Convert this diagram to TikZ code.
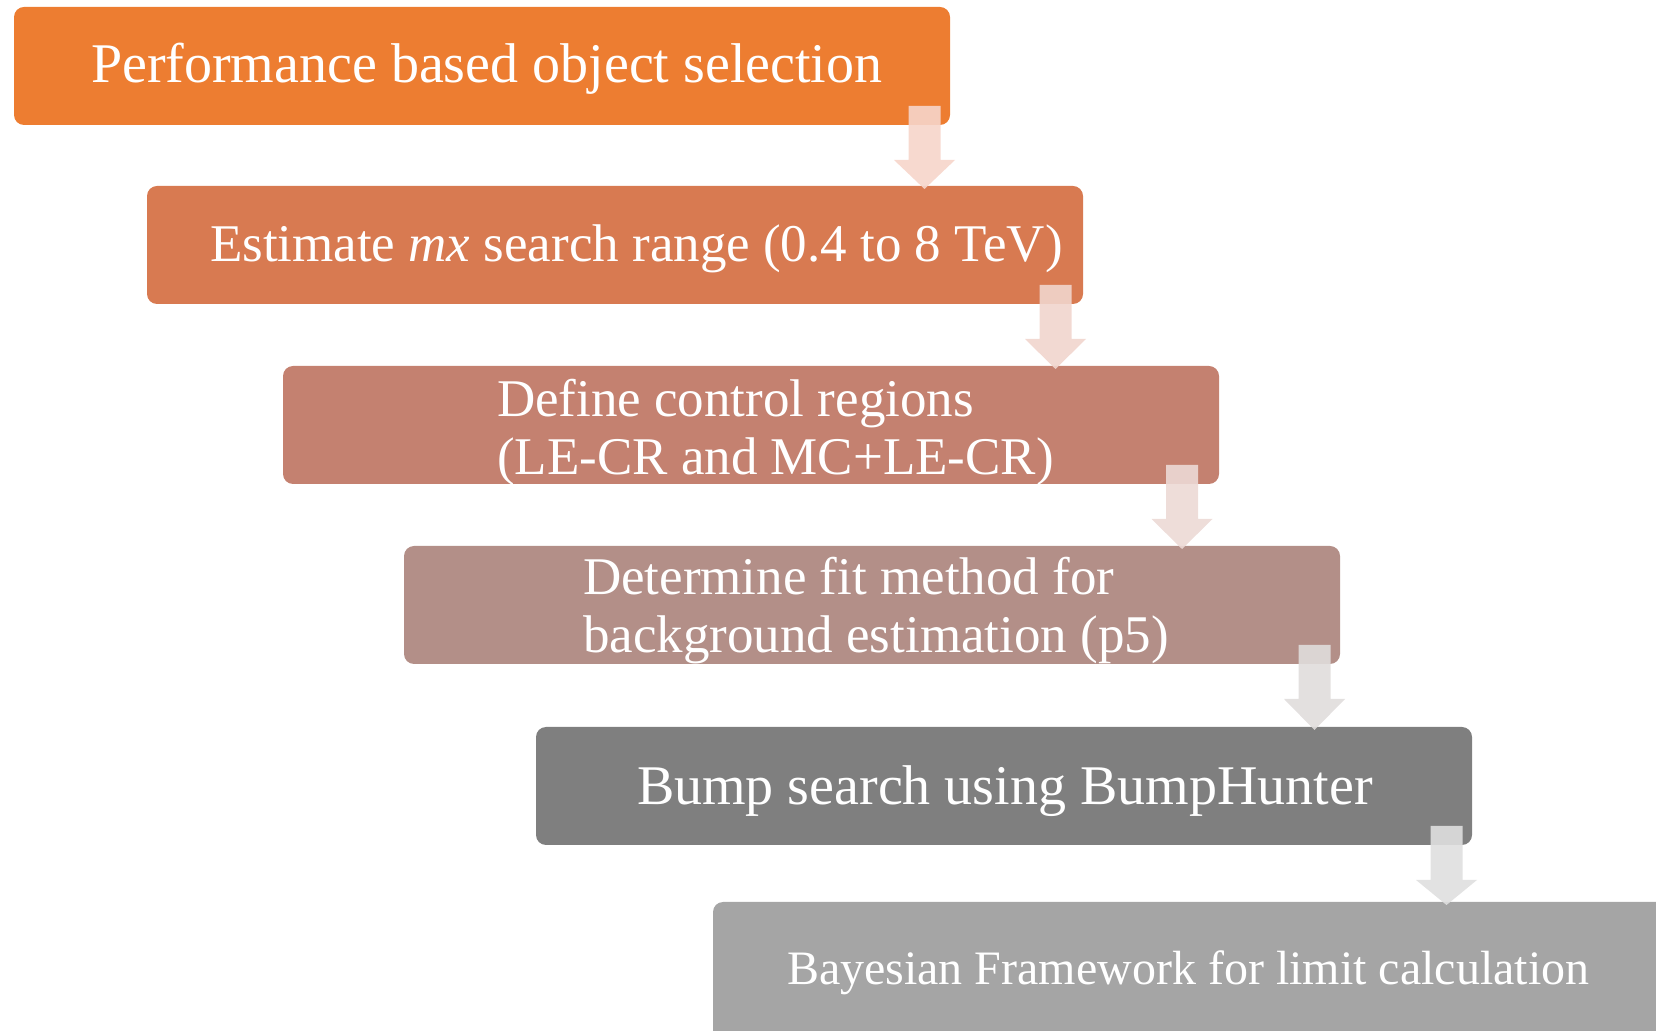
\documentclass[tikz,border=0pt]{standalone}
\usepackage{fontspec}
\setmainfont{Liberation Serif}
\usetikzlibrary{calc}

% stage fills, from orange to grey
\definecolor{stageA}{HTML}{ED7D31}
\definecolor{stageB}{HTML}{D87A51}
\definecolor{stageC}{HTML}{C48170}
\definecolor{stageD}{HTML}{B38F88}
\definecolor{stageE}{HTML}{7F7F7F}
\definecolor{stageF}{HTML}{A5A5A5}
% light arrow fills
\definecolor{flowA}{HTML}{F6D5CA}
\definecolor{flowB}{HTML}{F1D5CD}
\definecolor{flowC}{HTML}{ECD9D5}
\definecolor{flowD}{HTML}{E0DDDC}
\definecolor{flowE}{HTML}{DFDFDF}

\tikzset{
  stage/.style={rectangle, rounded corners=5pt, inner sep=0pt, outer sep=0pt,
    anchor=north west, minimum width=468pt, minimum height=59pt, fill=#1},
  stagetext/.style={text=white, anchor=base west, inner sep=0pt, outer sep=0pt},
  big/.style={font=\fontsize{28}{29}\selectfont},
  mid/.style={font=\fontsize{26.5}{29}\selectfont},
  small/.style={font=\fontsize{24}{29}\selectfont},
}

% block arrow near the lower right corner of one stage down onto the next;
% #4 is the distance of the arrow axis from the right edge of the stage
\newcommand\stagearrow[4][12.75pt]{%
  \fill[#4, fill opacity=0.9] let \p1=([xshift=-#1]#2.south east), \p2=(#3.north) in
    (\x1-8pt,\y1+9.5pt) -- (\x1+8pt,\y1+9.5pt) -- (\x1+8pt,\y1-17.5pt)
    -- (\x1+15.25pt,\y1-17.5pt) -- (\x1,\y2-1.5pt) -- (\x1-15.25pt,\y1-17.5pt)
    -- (\x1-8pt,\y1-17.5pt) -- cycle;
}

\begin{document}
\begin{tikzpicture}[x=0.5pt, y=-0.5pt]
  \clip (0,0) rectangle (1656,1031);

  % stages
  \node[stage=stageA] (b1) at (14,7) {};
  \node[stage=stageB] (b2) at (147,186) {};
  \node[stage=stageC] (b3) at (283,366) {};
  \node[stage=stageD] (b4) at (404,546) {};
  \node[stage=stageE] (b5) at (536,727) {};
  \node[stage=stageF, minimum width=500pt, minimum height=80pt] (b6) at (713,902) {};

  % stage texts
  \node[stagetext, big] (t1) at (91,83) {Performance based object selection};
  \node[stagetext, mid] (t2) at (210,262) {Estimate \textit{mx} search range (0.4 to 8 TeV)};
  \node[stagetext, mid] (t3) at (497,417) {Define control regions};
  \node[stagetext, mid] (t3b) at (497,475) {(LE-CR and MC+LE-CR)};
  \node[stagetext, mid] (t4) at (583,595) {Determine fit method for};
  \node[stagetext, mid] (t4b) at (583,653) {background estimation (p5)};
  \node[stagetext, big] (t5) at (637,805) {Bump search using BumpHunter};
  \node[stagetext, small] (t6) at (787,984) {Bayesian Framework for limit calculation};

  % flow arrows
  \stagearrow{b1}{b2}{flowA}
  \stagearrow[13.75pt]{b2}{b3}{flowB}
  \stagearrow[18.5pt]{b3}{b4}{flowC}
  \stagearrow{b4}{b5}{flowD}
  \stagearrow{b5}{b6}{flowE}
\end{tikzpicture}
\end{document}
